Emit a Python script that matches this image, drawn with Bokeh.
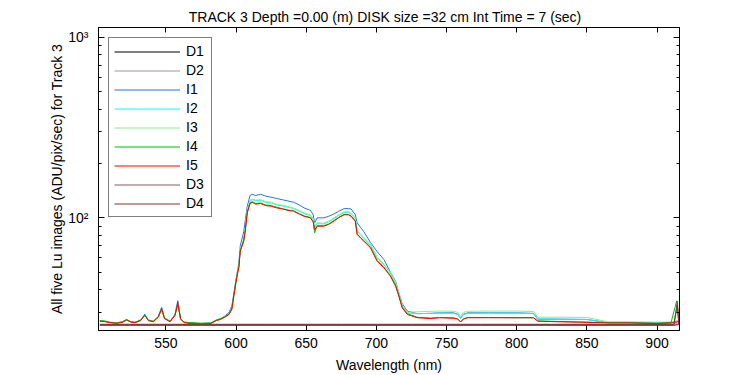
from bokeh.plotting import figure
from bokeh.models import (Range1d, FixedTicker, LinearAxis, LogAxis, Legend, LegendItem,
                          CustomJSTickFormatter)
from bokeh.embed import file_html
from bokeh.resources import INLINE

FONT = "Liberation Sans"

title_text = "TRACK 3 Depth =0.00 (m) DISK size =32 cm   Int Time = 7 (sec)"
x_label = "Wavelength (nm)"
y_label = "All five Lu images (ADU/pix/sec) for Track 3"

x_ticks = [550, 600, 650, 700, 750, 800, 850, 900]
y_ticks = [100, 1000]
y_tick_labels = ["10\u00b2", "10\u00b3"]

wavelength = [
    503, 507, 510, 515, 519, 522, 525, 528, 532, 535,
    537.5, 541, 544.5, 547, 549, 553, 556.5, 558.5, 560.5, 563,
    568, 575, 582, 586, 589, 592, 595, 597, 599.5, 600.7,
    602, 603, 605.5, 606.7, 608, 610, 611.5, 614, 617.5, 621,
    625, 629, 633, 637, 641, 645, 648.5, 653, 655, 656,
    657.8, 662.5, 666, 669.7, 673, 677, 680, 682, 685, 686.3,
    689, 691, 695.8, 700.6, 705.3, 710, 713.7, 716, 718.4, 722,
    729, 738.7, 745, 755, 758, 760, 762, 765, 780, 800,
    812, 815, 830, 850, 865, 880, 900, 910, 914, 915.5,
]

I1 = [
    26.9, 26.7, 26.4, 26.2, 26.5, 27.3, 26.6, 26.4, 27.1, 29.3,
    27.1, 26.7, 28.4, 32.0, 27.8, 26.7, 29.2, 34.8, 27.6, 26.4,
    26.1, 26.0, 26.1, 27.2, 27.7, 28.6, 29.9, 32.5, 43.0, 49.0,
    56.0, 70.0, 84.0, 98.0, 116.0, 133.0, 135.0, 133.0, 135.0, 132.0,
    130.0, 128.0, 126.0, 124.0, 122.0, 118.0, 113.5, 110.0, 104.0, 93.8,
    100.0, 100.0, 102.0, 105.0, 108.5, 112.5, 112.5, 112.0, 104.0, 93.8,
    88.0, 84.0, 73.0, 65.0, 58.9, 50.0, 44.5, 38.5, 33.5, 30.5,
    29.5, 29.6, 29.8, 29.8, 29.3, 27.8, 29.3, 29.8, 29.8, 29.8,
    29.6, 27.5, 27.5, 27.4, 26.3, 26.3, 26.2, 26.2, 26.6, 26.6,
]

I2 = [
    26.9, 26.7, 26.4, 26.2, 26.5, 27.3, 26.6, 26.4, 27.1, 29.0,
    27.1, 26.7, 28.2, 31.4, 27.8, 26.7, 28.9, 33.8, 27.6, 26.4,
    26.1, 26.0, 26.1, 27.1, 27.5, 28.3, 29.4, 31.4, 41.0, 48.0,
    54.0, 66.5, 76.0, 88.5, 109.0, 124.0, 126.0, 124.5, 125.0, 122.0,
    121.0, 118.0, 116.5, 114.5, 112.5, 109.0, 105.5, 103.0, 98.0, 88.0,
    93.0, 92.5, 95.0, 99.0, 103.0, 107.0, 107.0, 105.0, 98.5, 84.0,
    80.0, 77.0, 70.5, 60.0, 55.0, 49.5, 43.5, 38.0, 32.5, 29.8,
    29.5, 29.6, 29.7, 29.6, 29.2, 27.8, 29.2, 29.6, 29.7, 29.7,
    29.5, 27.6, 27.5, 27.4, 26.3, 26.3, 26.2, 26.3, 26.8, 26.8,
]

I3 = [
    27.0, 26.8, 26.5, 26.3, 26.6, 27.4, 26.7, 26.5, 27.2, 28.9,
    27.2, 26.8, 28.2, 31.2, 27.9, 26.8, 28.9, 33.5, 27.7, 26.5,
    26.2, 26.1, 26.2, 27.2, 27.6, 28.4, 29.5, 31.5, 42.5, 48.5,
    54.5, 67.0, 76.5, 89.0, 110.0, 125.0, 127.0, 125.5, 126.0, 123.0,
    122.0, 119.0, 117.5, 115.5, 113.5, 110.0, 106.5, 104.0, 99.0, 90.0,
    94.0, 93.5, 96.0, 100.0, 104.0, 108.0, 108.0, 106.0, 99.5, 85.0,
    81.0, 78.0, 71.5, 60.5, 55.5, 50.0, 44.0, 38.5, 33.0, 30.0,
    30.2, 30.4, 30.5, 30.4, 30.0, 28.5, 30.0, 30.4, 30.5, 30.5,
    30.3, 28.2, 28.2, 28.1, 26.6, 26.6, 26.5, 26.5, 27.0, 27.0,
]

I4 = [
    27.0, 26.8, 26.4, 26.2, 26.6, 27.4, 26.6, 26.4, 27.2, 28.8,
    27.2, 26.8, 28.3, 31.0, 27.9, 26.8, 29.0, 33.0, 27.7, 26.5,
    26.3, 26.1, 26.2, 27.2, 27.6, 28.4, 29.5, 31.5, 42.5, 48.0,
    53.5, 66.0, 75.0, 87.0, 107.5, 121.0, 123.0, 120.0, 121.0, 118.0,
    117.0, 114.5, 112.5, 110.5, 109.5, 105.5, 102.5, 100.5, 95.0, 82.6,
    90.5, 90.5, 92.5, 96.5, 100.5, 104.5, 104.5, 102.5, 96.0, 81.5,
    77.5, 75.0, 69.0, 58.0, 53.5, 48.0, 42.3, 37.2, 32.0, 29.5,
    28.2, 27.9, 28.1, 28.0, 27.6, 26.6, 27.6, 28.1, 28.1, 28.0,
    28.0, 26.9, 26.7, 26.5, 26.3, 26.3, 26.1, 26.4, 34.7, 27.0,
]

I5 = [
    26.8, 26.6, 26.3, 26.1, 26.4, 27.2, 26.5, 26.3, 27.0, 29.0,
    27.0, 26.6, 28.1, 31.5, 27.7, 26.6, 28.8, 34.0, 27.5, 26.3,
    26.0, 25.9, 26.0, 27.0, 27.4, 28.2, 29.2, 31.1, 41.9, 47.6,
    53.0, 65.3, 74.3, 86.0, 106.6, 120.0, 122.0, 119.0, 120.0, 117.0,
    116.0, 113.5, 112.0, 110.0, 108.8, 105.0, 102.0, 100.0, 95.0, 86.0,
    89.9, 89.9, 92.0, 95.8, 100.0, 104.0, 104.0, 102.0, 95.8, 80.9,
    77.0, 74.3, 68.3, 57.5, 53.0, 47.6, 41.9, 36.9, 31.8, 29.2,
    28.0, 27.7, 28.0, 27.8, 27.5, 26.5, 27.5, 28.0, 28.0, 28.0,
    28.0, 26.8, 26.6, 26.4, 26.2, 26.2, 26.0, 26.2, 26.5, 26.8,
]

wl_dark = [503, 525, 550, 575, 600, 625, 650, 675, 700, 725,
           750, 775, 800, 825, 850, 875, 900, 912, 914.5, 915.5]
D1 = [25.5, 25.5, 25.5, 25.5, 25.5, 25.5, 25.5, 25.5, 25.5, 25.5,
      25.5, 25.5, 25.5, 25.5, 25.5, 25.5, 25.5, 25.5, 25.6, 25.6]
D2 = [25.8, 25.8, 25.8, 25.8, 25.8, 25.8, 25.8, 25.8, 25.8, 25.8,
      25.8, 25.8, 25.8, 25.8, 25.8, 25.8, 25.8, 25.8, 26.0, 26.0]
D3 = [25.7, 25.7, 25.7, 25.7, 25.7, 25.7, 25.7, 25.7, 25.7, 25.7,
      25.7, 25.7, 25.7, 25.7, 25.7, 25.7, 25.7, 25.7, 34.6, 25.8]
D4 = [25.6, 25.6, 25.6, 25.6, 25.6, 25.6, 25.6, 25.6, 25.6, 25.6,
      25.6, 25.6, 25.6, 25.6, 25.6, 25.6, 25.6, 25.6, 33.0, 25.7]

series_names = ["D1", "D2", "I1", "I2", "I3", "I4", "I5", "D3", "D4"]
series_colors = ["#000000", "#999999", "#1f78e0", "#00ffff", "#88f088",
                 "#00c000", "#ff0000", "#805a5a", "#803232"]
series_x = [wl_dark, wl_dark, wavelength, wavelength, wavelength,
            wavelength, wavelength, wl_dark, wl_dark]
series_y = [D1, D2, I1, I2, I3, I4, I5, D3, D4]

x_start, x_end = 502, 916
y_start, y_end = 23.8, 1131

p = figure(width=750, height=375, output_backend="svg", toolbar_location=None,
           y_axis_type="log",
           x_range=Range1d(x_start, x_end), y_range=Range1d(y_start, y_end),
           min_border_left=98, min_border_right=71, min_border_top=27, min_border_bottom=44,
           background_fill_color="white", border_fill_color="white")

p.title.text = title_text
p.title.align = "center"
p.title.offset = 12
p.title.text_font = FONT
p.title.text_font_size = "14px"
p.title.text_font_style = "normal"
p.title.text_color = "black"
p.title.standoff = 6

p.grid.visible = False
p.outline_line_color = "black"
p.outline_line_width = 1

minor_y = [m * d for d in (10, 100) for m in range(2, 10)]

xa = p.xaxis[0]
xa.ticker = FixedTicker(ticks=x_ticks)
xa.major_tick_in = 5
xa.major_tick_out = 0
xa.minor_tick_in = 0
xa.minor_tick_out = 0
xa.major_label_text_font = FONT
xa.major_label_text_font_size = "14px"
xa.major_label_text_color = "black"
xa.major_label_standoff = 7
xa.axis_label = x_label
xa.axis_label_text_font = FONT
xa.axis_label_text_font_size = "14px"
xa.axis_label_text_font_style = "normal"
xa.axis_label_text_color = "black"
xa.axis_label_standoff = 6
xa.axis_line_color = "black"

ya = p.yaxis[0]
ya.ticker = FixedTicker(ticks=y_ticks, minor_ticks=minor_y)
ya.major_label_overrides = {t: lab for t, lab in zip(y_ticks, y_tick_labels)}
ya.major_label_text_font = FONT
ya.major_label_text_font_size = "14px"
ya.major_label_text_color = "black"
ya.major_tick_in = 6
ya.major_tick_out = 0
ya.minor_tick_in = 3
ya.minor_tick_out = 0
ya.major_label_standoff = 10
ya.axis_label = y_label
ya.axis_label_text_font = FONT
ya.axis_label_text_font_size = "14px"
ya.axis_label_text_font_style = "normal"
ya.axis_label_text_color = "black"
ya.axis_label_standoff = 0
ya.axis_line_color = "black"

top_axis = LinearAxis(ticker=FixedTicker(ticks=x_ticks), formatter=CustomJSTickFormatter(code="return ''"),
                      major_tick_in=5, major_tick_out=0,
                      minor_tick_in=0, minor_tick_out=0,
                      major_label_standoff=0, axis_line_color="black")
p.add_layout(top_axis, "above")
right_axis = LogAxis(ticker=FixedTicker(ticks=y_ticks, minor_ticks=minor_y),
                     formatter=CustomJSTickFormatter(code="return ''"), major_tick_in=6,
                     major_tick_out=0, minor_tick_in=3, minor_tick_out=0,
                     major_label_standoff=0, axis_line_color="black")
p.add_layout(right_axis, "right")

items = []
for name, col, xs, ys in zip(series_names, series_colors, series_x, series_y):
    r = p.line(xs, ys, line_color=col, line_width=1)
    items.append(LegendItem(label=name, renderers=[r]))

legend = Legend(items=items, location="top_left", margin=10, padding=5, spacing=3,
                glyph_height=15, label_height=15, glyph_width=66, label_standoff=6,
                label_text_font=FONT, label_text_font_size="14px", label_text_color="black",
                border_line_color="black", border_line_width=1, background_fill_color="white",
                background_fill_alpha=1.0)
p.add_layout(legend, "center")

open("out.html", "w").write(file_html(p, INLINE))
